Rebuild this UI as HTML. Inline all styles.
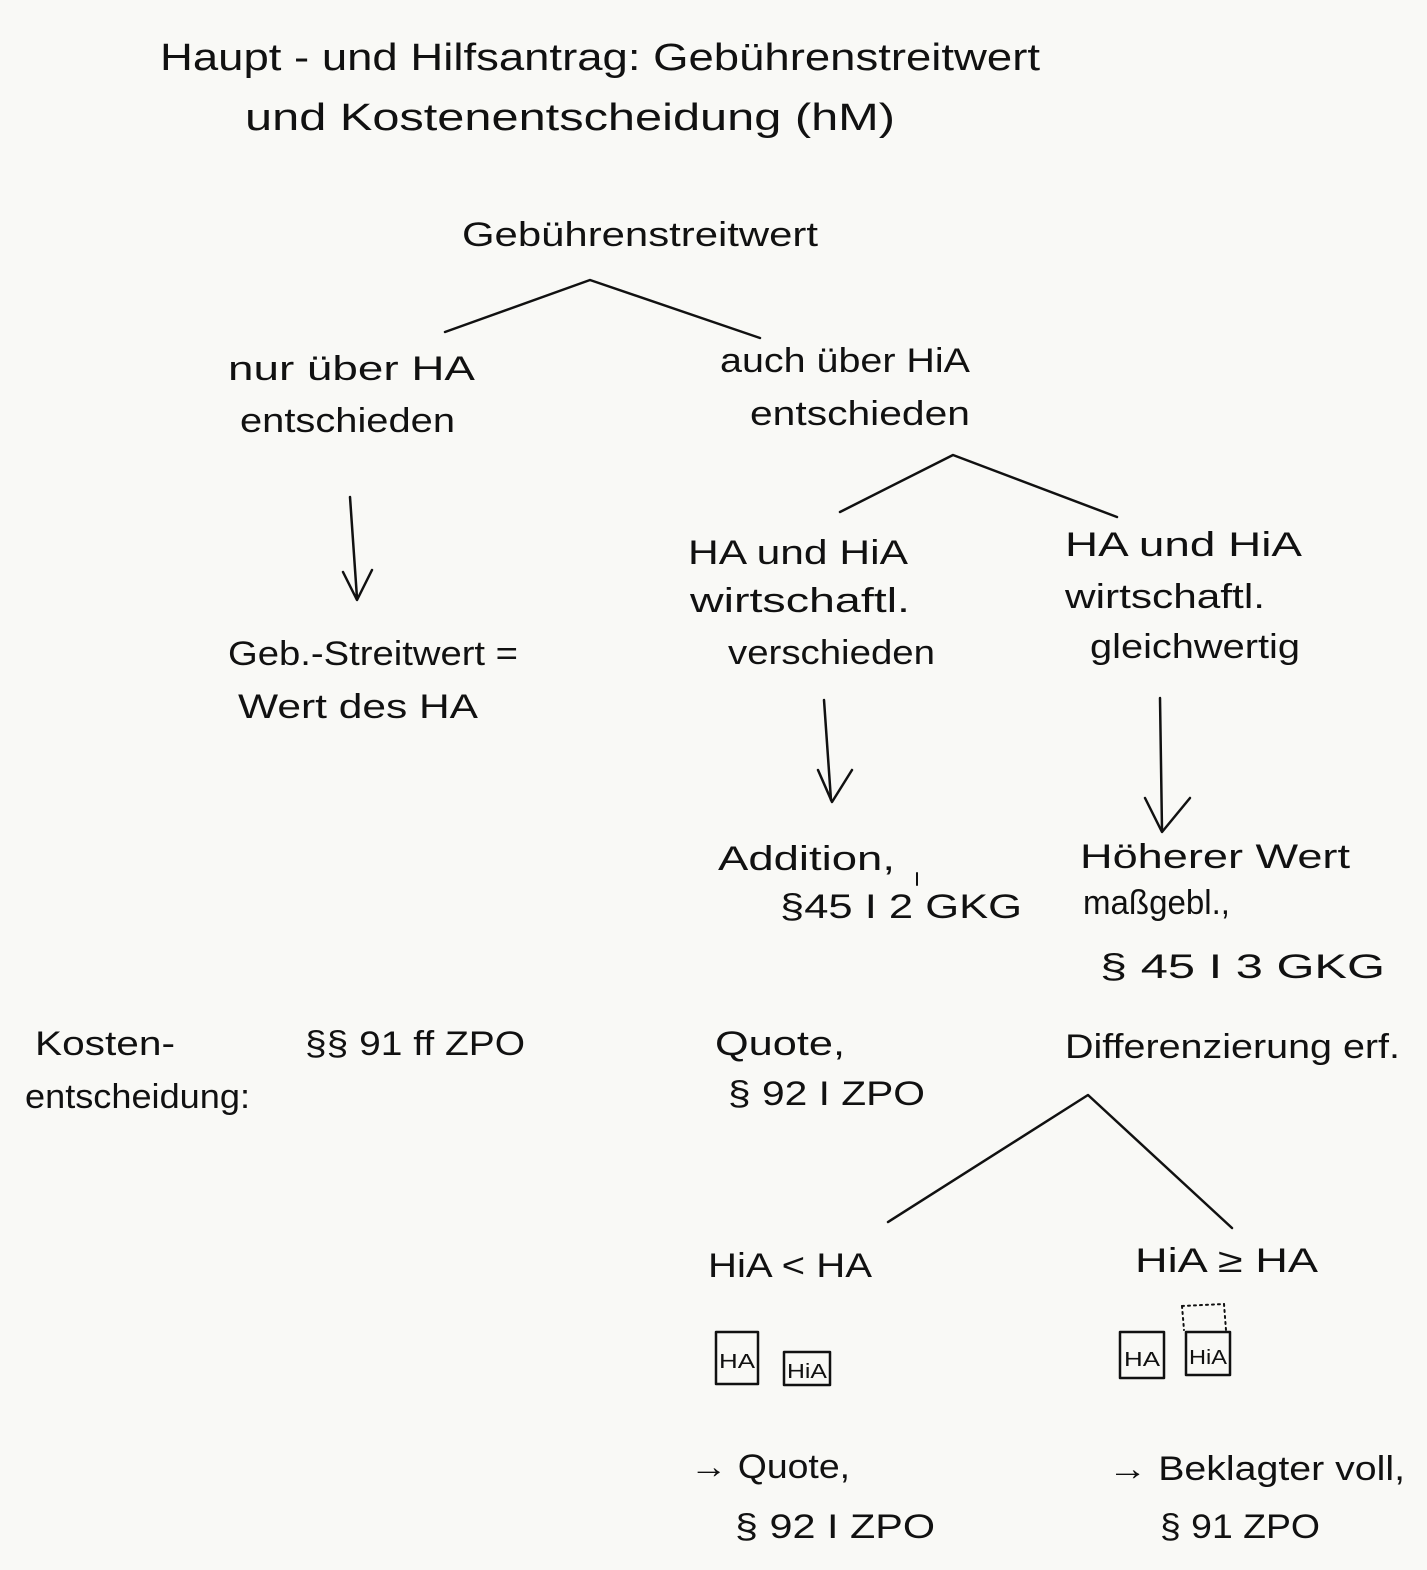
<!DOCTYPE html>
<html><head><meta charset="utf-8"><style>
html,body{margin:0;padding:0;background:#f9f9f6;}
svg{display:block}
text{font-family:"Liberation Sans",sans-serif;fill:#111;}
</style></head><body>
<svg width="1427" height="1570" viewBox="0 0 1427 1570" xmlns="http://www.w3.org/2000/svg">
<rect width="1427" height="1570" fill="#f9f9f6"/>
<g font-size="38">
<text x="160" y="70" textLength="880" lengthAdjust="spacingAndGlyphs">Haupt - und Hilfsantrag: Gebührenstreitwert</text>
<text x="245" y="130" textLength="650" lengthAdjust="spacingAndGlyphs">und  Kostenentscheidung (hM)</text>
</g>
<g font-size="34">
<text x="462" y="246" textLength="356" lengthAdjust="spacingAndGlyphs">Gebührenstreitwert</text>
<text x="228" y="380" textLength="247" lengthAdjust="spacingAndGlyphs">nur  über HA</text>
<text x="240" y="432" textLength="215" lengthAdjust="spacingAndGlyphs">entschieden</text>
<text x="720" y="372" textLength="250" lengthAdjust="spacingAndGlyphs">auch über HiA</text>
<text x="750" y="425" textLength="220" lengthAdjust="spacingAndGlyphs">entschieden</text>
<text x="228" y="665" textLength="290" lengthAdjust="spacingAndGlyphs">Geb.-Streitwert =</text>
<text x="238" y="718" textLength="240" lengthAdjust="spacingAndGlyphs">Wert des HA</text>
<text x="688" y="564" textLength="220" lengthAdjust="spacingAndGlyphs">HA und HiA</text>
<text x="690" y="612" textLength="220" lengthAdjust="spacingAndGlyphs">wirtschaftl.</text>
<text x="728" y="664" textLength="207" lengthAdjust="spacingAndGlyphs">verschieden</text>
<text x="1065" y="556" textLength="237" lengthAdjust="spacingAndGlyphs">HA und HiA</text>
<text x="1065" y="608" textLength="200" lengthAdjust="spacingAndGlyphs">wirtschaftl.</text>
<text x="1090" y="658" textLength="210" lengthAdjust="spacingAndGlyphs">gleichwertig</text>
<text x="718" y="870" textLength="177" lengthAdjust="spacingAndGlyphs">Addition,</text>
<text x="780" y="918" textLength="242" lengthAdjust="spacingAndGlyphs">§45 I 2 GKG</text>
<text x="1080" y="868" textLength="270" lengthAdjust="spacingAndGlyphs">Höherer  Wert</text>
<text x="1083" y="914" textLength="147" lengthAdjust="spacingAndGlyphs">maßgebl.,</text>
<text x="1100" y="978" textLength="285" lengthAdjust="spacingAndGlyphs">§ 45  I  3 GKG</text>
<text x="35" y="1055" textLength="140" lengthAdjust="spacingAndGlyphs">Kosten-</text>
<text x="25" y="1108" textLength="225" lengthAdjust="spacingAndGlyphs">entscheidung:</text>
<text x="305" y="1055" textLength="220" lengthAdjust="spacingAndGlyphs">§§ 91 ff ZPO</text>
<text x="715" y="1055" textLength="130" lengthAdjust="spacingAndGlyphs">Quote,</text>
<text x="728" y="1105" textLength="197" lengthAdjust="spacingAndGlyphs">§ 92 I ZPO</text>
<text x="1065" y="1058" textLength="335" lengthAdjust="spacingAndGlyphs">Differenzierung erf.</text>
<text x="708" y="1277" textLength="164" lengthAdjust="spacingAndGlyphs">HiA &lt; HA</text>
<text x="1135" y="1272" textLength="183" lengthAdjust="spacingAndGlyphs">HiA ≥ HA</text>
<text x="690" y="1478" textLength="160" lengthAdjust="spacingAndGlyphs">→ Quote,</text>
<text x="735" y="1538" textLength="200" lengthAdjust="spacingAndGlyphs">§ 92 I ZPO</text>
<text x="1108" y="1480" textLength="297" lengthAdjust="spacingAndGlyphs">→ Beklagter voll,</text>
<text x="1160" y="1538" textLength="160" lengthAdjust="spacingAndGlyphs">§ 91 ZPO</text>
</g>
<g stroke="#111" stroke-width="2.5" fill="none" stroke-linecap="round" stroke-linejoin="round">
<polyline points="445,332 590,280 760,338"/>
<polyline points="840,512 953,455 1117,517"/>
<polyline points="888,1222 1088,1095 1232,1228"/>
<line x1="350" y1="497" x2="357" y2="598"/>
<polyline points="343,572 357,600 372,570"/>
<line x1="824" y1="700" x2="831" y2="800"/>
<polyline points="818,770 832,802 852,770"/>
<line x1="1160" y1="698" x2="1162" y2="830"/>
<polyline points="1145,798 1162,832 1190,798"/>
<line x1="917" y1="873" x2="917" y2="885" stroke-width="2"/>
<rect x="716" y="1332" width="42" height="52"/>
<rect x="784" y="1352" width="46" height="33"/>
<rect x="1120" y="1332" width="44" height="46"/>
<rect x="1186" y="1332" width="44" height="43"/>
<line x1="1182" y1="1306" x2="1224" y2="1304" stroke-dasharray="2,4" stroke-width="2"/>
<line x1="1182" y1="1306" x2="1184" y2="1330" stroke-dasharray="2,4" stroke-width="2"/>
<line x1="1224" y1="1304" x2="1226" y2="1330" stroke-dasharray="2,4" stroke-width="2"/>
</g>
<g font-size="20">
<text x="719" y="1368" textLength="36" lengthAdjust="spacingAndGlyphs">HA</text>
<text x="787" y="1378" textLength="40" lengthAdjust="spacingAndGlyphs">HiA</text>
<text x="1124" y="1366" textLength="36" lengthAdjust="spacingAndGlyphs">HA</text>
<text x="1189" y="1364" textLength="38" lengthAdjust="spacingAndGlyphs">HiA</text>
</g>
</svg>
</body></html>
